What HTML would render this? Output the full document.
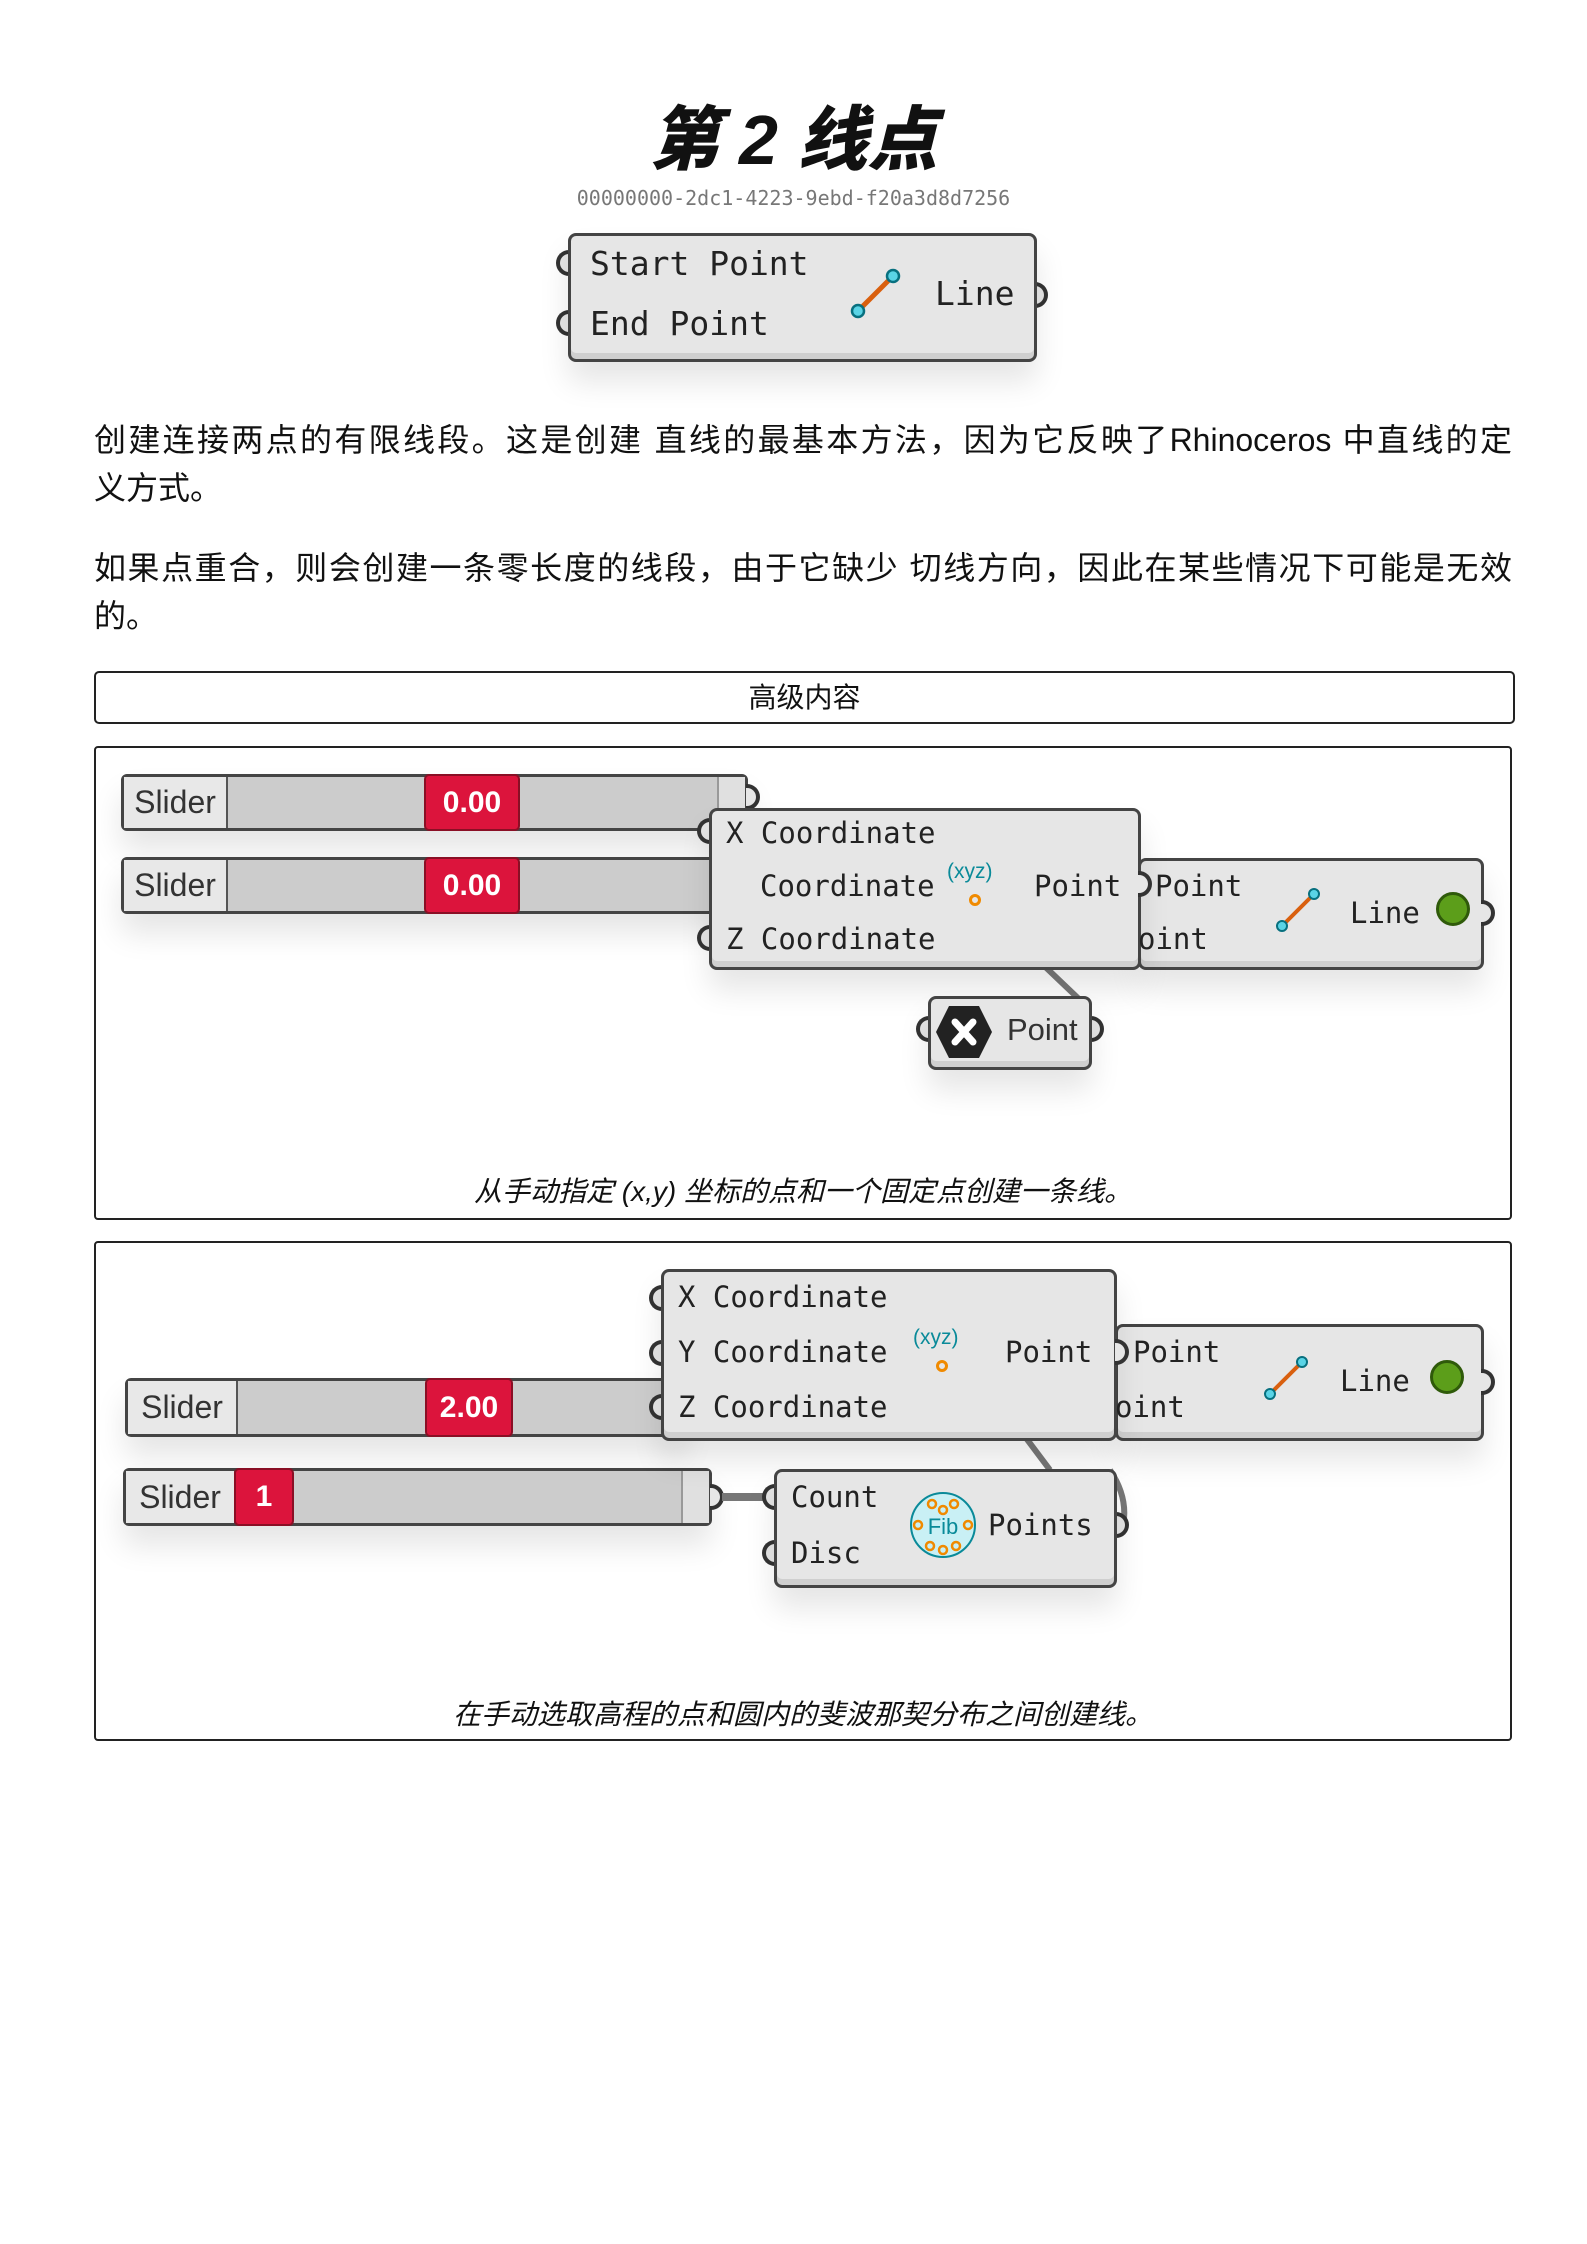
<!DOCTYPE html>
<html><head><meta charset="utf-8">
<style>
*{margin:0;padding:0;box-sizing:border-box}
body{width:1587px;height:2244px;background:#fff;position:relative;overflow:hidden;font-family:"Liberation Sans","Noto Sans CJK SC",sans-serif;color:#111}
.a{position:absolute}
.title{left:0;width:1587px;top:98px;text-align:center;font-size:70px;font-weight:900;font-style:italic;line-height:84px}
.guid{left:0;width:1587px;top:186px;text-align:center;font-size:20px;color:#777;font-family:"DejaVu Sans Mono",monospace}
.p{left:94px;width:1418px;font-size:32px;line-height:48px}
.p .l1{display:block;text-align:justify;text-align-last:justify;white-space:nowrap}
.comp{position:absolute;background:#e6e6e6;border:3px solid #444;border-radius:8px;box-shadow:inset 0 -6px 0 #cfcfcf,0 20px 30px rgba(0,0,0,.10)}
.mono{font-family:"DejaVu Sans Mono",monospace;color:#222;position:absolute;white-space:nowrap}
.port{position:absolute;width:14px;height:26px;border:4px solid #333;background:#e6e6e6}
.pl{border-radius:13px 0 0 13px;border-right:none}
.pr{border-radius:0 13px 13px 0;border-left:none}
.slider{position:absolute;background:#ccc;border:3px solid #444;border-radius:6px;box-shadow:0 20px 30px rgba(0,0,0,.10)}
.slab{position:absolute;left:0;top:0;bottom:0;background:#e8e8e8;border-right:2px solid #555;font-size:32px;color:#333;display:flex;align-items:center;justify-content:center;font-family:"Liberation Sans Narrow","Liberation Sans",sans-serif}
.red{position:absolute;top:-3px;bottom:-3px;background:#dc143c;border:2px solid #8a0f25;border-radius:5px;color:#fff;font-size:30px;font-weight:bold;display:flex;align-items:center;justify-content:center}
.grip{position:absolute;right:0;top:0;bottom:0;width:28px;background:#e0e0e0;border-left:2px solid #999}
.panel{position:absolute;border:2px solid #222;border-radius:4px}
.cap{position:absolute;left:0;width:100%;text-align:center;font-style:italic;font-size:28px}
</style></head><body>

<div class="a title">第 2 线点</div>
<div class="a guid">00000000-2dc1-4223-9ebd-f20a3d8d7256</div>

<div class="port pl" style="left:556px;top:250px"></div>
<div class="port pl" style="left:556px;top:310px"></div>
<div class="port pr" style="left:1034px;top:282px"></div>
<div class="comp" style="left:568px;top:233px;width:469px;height:129px"></div>
<div class="mono" style="left:590px;top:244px;font-size:33px">Start Point</div>
<div class="mono" style="left:590px;top:304px;font-size:33px">End Point</div>
<div class="mono" style="left:935px;top:274px;font-size:33px">Line</div>
<svg class="a" style="left:845px;top:264px" width="60" height="60"><line x1="13" y1="47" x2="48" y2="12" stroke="#d9600f" stroke-width="5"/><circle cx="13" cy="47" r="6" fill="#5ad4e6" stroke="#08707f" stroke-width="2.5"/><circle cx="48" cy="12" r="6" fill="#5ad4e6" stroke="#08707f" stroke-width="2.5"/></svg>

<div class="a p" style="top:416px"><span class="l1">创建连接两点的有限线段。这是创建 直线的最基本方法，因为它反映了Rhinoceros 中直线的定</span>义方式。</div>
<div class="a p" style="top:544px"><span class="l1">如果点重合，则会创建一条零长度的线段，由于它缺少 切线方向，因此在某些情况下可能是无效</span>的。</div>

<div class="a" style="left:94px;top:671px;width:1421px;height:53px;border:2px solid #222;border-radius:5px;text-align:center;font-size:28px;line-height:49px">高级内容</div>

<!-- panel 1 -->
<div class="panel" style="left:94px;top:746px;width:1418px;height:474px"></div>
<div class="slider" style="left:121px;top:774px;width:627px;height:57px"><div class="slab" style="width:104px">Slider</div><div class="red" style="left:300px;width:96px">0.00</div><div class="grip"></div></div>
<div class="port pr" style="left:746px;top:784px"></div>
<div class="slider" style="left:121px;top:857px;width:627px;height:57px"><div class="slab" style="width:104px">Slider</div><div class="red" style="left:300px;width:96px">0.00</div><div class="grip"></div></div>
<div class="port pr" style="left:746px;top:872px"></div>
<svg class="a" style="left:1030px;top:960px" width="80" height="50"><line x1="8" y1="0" x2="50" y2="40" stroke="#777" stroke-width="6"/></svg>
<div class="port pl" style="left:697px;top:818px"></div>
<div class="port pl" style="left:697px;top:925px"></div>
<div class="comp" style="left:1138px;top:858px;width:346px;height:112px"></div>
<div class="port pr" style="left:1481px;top:900px"></div>
<div class="comp" style="left:709px;top:808px;width:432px;height:162px"></div>
<div class="mono" style="left:726px;top:816px;font-size:29px">X Coordinate</div>
<div class="mono" style="left:760px;top:869px;font-size:29px">Coordinate</div>
<div class="mono" style="left:726px;top:922px;font-size:29px">Z Coordinate</div>
<div class="mono" style="left:1034px;top:869px;font-size:29px">Point</div>
<div class="a" style="left:947px;top:860px;font-size:21px;color:#0a8a99">(xyz)</div>
<div class="a" style="left:969px;top:894px;width:12px;height:12px;border:3px solid #f08a00;border-radius:50%"></div>
<div class="port pr" style="left:1138px;top:871px"></div>
<div class="mono" style="left:1155px;top:869px;font-size:29px">Point</div>
<div class="mono" style="left:1138px;top:922px;font-size:29px">oint</div>
<svg class="a" style="left:1272px;top:884px" width="52" height="52"><line x1="10" y1="42" x2="42" y2="10" stroke="#d9600f" stroke-width="4"/><circle cx="10" cy="42" r="5" fill="#5ad4e6" stroke="#08707f" stroke-width="2"/><circle cx="42" cy="10" r="5" fill="#5ad4e6" stroke="#08707f" stroke-width="2"/></svg>
<div class="mono" style="left:1350px;top:896px;font-size:29px">Line</div>
<div class="a" style="left:1436px;top:892px;width:34px;height:34px;border-radius:50%;background:#5c9e1a;border:3px solid #2f5a0a"></div>

<div class="port pl" style="left:916px;top:1016px"></div>
<div class="port pr" style="left:1090px;top:1016px"></div>
<div class="comp" style="left:928px;top:996px;width:164px;height:74px"></div>
<svg class="a" style="left:934px;top:1004px" width="60" height="56"><polygon points="15,2 45,2 58,28 45,54 15,54 2,28" fill="#222"/><path d="M21 18 L39 38 M39 18 L21 38" stroke="#fff" stroke-width="7" stroke-linecap="round"/></svg>
<div class="a" style="left:1007px;top:1012px;font-size:31px;color:#333;font-family:'Liberation Sans Narrow','Liberation Sans',sans-serif">Point</div>
<div class="cap" style="left:94px;width:1418px;top:1170px">从手动指定 (x,y) 坐标的点和一个固定点创建一条线。</div>

<!-- panel 2 -->
<div class="panel" style="left:94px;top:1241px;width:1418px;height:500px"></div>
<div class="slider" style="left:125px;top:1378px;width:560px;height:59px"><div class="slab" style="width:110px">Slider</div><div class="red" style="left:297px;width:88px">2.00</div></div>
<div class="slider" style="left:123px;top:1468px;width:589px;height:58px"><div class="slab" style="width:110px">Slider</div><div class="red" style="left:108px;width:60px">1</div><div class="grip"></div></div>
<div class="port pr" style="left:710px;top:1484px"></div>
<div class="a" style="left:722px;top:1493px;width:50px;height:8px;background:#777"></div>
<svg class="a" style="left:1010px;top:1430px" width="140" height="110"><line x1="10" y1="0" x2="40" y2="40" stroke="#777" stroke-width="6"/><path d="M100 40 Q120 70 112 100" stroke="#777" stroke-width="6" fill="none"/></svg>
<div class="port pl" style="left:649px;top:1285px"></div>
<div class="port pl" style="left:649px;top:1340px"></div>
<div class="port pl" style="left:649px;top:1394px"></div>
<div class="comp" style="left:1115px;top:1324px;width:369px;height:117px"></div>
<div class="port pr" style="left:1481px;top:1369px"></div>
<div class="comp" style="left:661px;top:1269px;width:456px;height:172px"></div>
<div class="mono" style="left:678px;top:1280px;font-size:29px">X Coordinate</div>
<div class="mono" style="left:678px;top:1335px;font-size:29px">Y Coordinate</div>
<div class="mono" style="left:678px;top:1390px;font-size:29px">Z Coordinate</div>
<div class="mono" style="left:1005px;top:1335px;font-size:29px">Point</div>
<div class="a" style="left:913px;top:1326px;font-size:21px;color:#0a8a99">(xyz)</div>
<div class="a" style="left:936px;top:1360px;width:12px;height:12px;border:3px solid #f08a00;border-radius:50%"></div>
<div class="port pr" style="left:1115px;top:1339px"></div>
<div class="mono" style="left:1133px;top:1335px;font-size:29px">Point</div>
<div class="mono" style="left:1115px;top:1390px;font-size:29px">oint</div>
<svg class="a" style="left:1260px;top:1352px" width="52" height="52"><line x1="10" y1="42" x2="42" y2="10" stroke="#d9600f" stroke-width="4"/><circle cx="10" cy="42" r="5" fill="#5ad4e6" stroke="#08707f" stroke-width="2"/><circle cx="42" cy="10" r="5" fill="#5ad4e6" stroke="#08707f" stroke-width="2"/></svg>
<div class="mono" style="left:1340px;top:1364px;font-size:29px">Line</div>
<div class="a" style="left:1430px;top:1360px;width:34px;height:34px;border-radius:50%;background:#5c9e1a;border:3px solid #2f5a0a"></div>

<div class="port pl" style="left:762px;top:1484px"></div>
<div class="port pl" style="left:762px;top:1540px"></div>
<div class="port pr" style="left:1115px;top:1512px"></div>
<div class="comp" style="left:774px;top:1469px;width:343px;height:119px"></div>
<div class="mono" style="left:791px;top:1480px;font-size:29px">Count</div>
<div class="mono" style="left:791px;top:1536px;font-size:29px">Disc</div>
<div class="mono" style="left:988px;top:1508px;font-size:29px">Points</div>
<svg class="a" style="left:908px;top:1490px" width="70" height="70"><circle cx="35" cy="35" r="32" fill="#c9f0f5" stroke="#0a8a99" stroke-width="2"/><g fill="none" stroke="#f08a00" stroke-width="2.5"><circle cx="24" cy="14" r="4"/><circle cx="46" cy="14" r="4"/><circle cx="35" cy="20" r="4"/><circle cx="10" cy="35" r="4"/><circle cx="60" cy="35" r="4"/><circle cx="22" cy="56" r="4"/><circle cx="48" cy="56" r="4"/><circle cx="35" cy="60" r="4"/></g><text x="35" y="44" font-size="22" text-anchor="middle" fill="#0a8a99" font-family="Liberation Sans Narrow,Liberation Sans,sans-serif">Fib</text></svg>
<div class="cap" style="left:94px;width:1418px;top:1693px">在手动选取高程的点和圆内的斐波那契分布之间创建线。</div>
</body></html>
